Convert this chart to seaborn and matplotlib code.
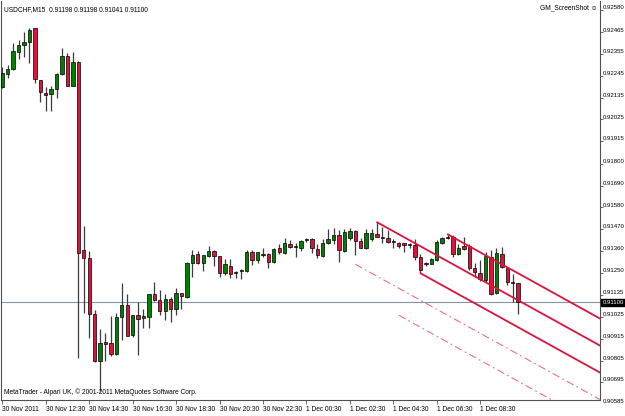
import matplotlib
matplotlib.use("Agg")
import matplotlib.pyplot as plt
import matplotlib.transforms as mtransforms
import numpy as np
import pandas as pd
import seaborn as sns

# ---------------- data ----------------
symbol = "USDCHF,M15"
opens = [0.92190, 0.92253, 0.92279, 0.92368, 0.92401, 0.92415, 0.92486, 0.92224, 0.92157, 0.92154,
         0.92177, 0.92255, 0.92347, 0.92196, 0.92317, 0.91365, 0.91323, 0.91041, 0.90805, 0.90898,
         0.90893, 0.90837, 0.91027, 0.91085, 0.90935, 0.91034, 0.91019, 0.91024, 0.91140, 0.91112,
         0.91056, 0.91118, 0.91065, 0.91146, 0.91125, 0.91300, 0.91343, 0.91297, 0.91334, 0.91361,
         0.91334, 0.91247, 0.91285, 0.91247, 0.91258, 0.91258, 0.91353, 0.91314, 0.91339, 0.91343,
         0.91305, 0.91376, 0.91348, 0.91395, 0.91385, 0.91376, 0.91415, 0.91419, 0.91368, 0.91336,
         0.91398, 0.91415, 0.91440, 0.91359, 0.91427, 0.91461, 0.91410, 0.91373, 0.91420, 0.91445,
         0.91429, 0.91424, 0.91410, 0.91398, 0.91398, 0.91393, 0.91390, 0.91331, 0.91297, 0.91294,
         0.91314, 0.91398, 0.91432, 0.91432, 0.91343, 0.91386, 0.91386, 0.91272, 0.91247, 0.91213,
         0.91331, 0.91146, 0.91343, 0.91275, 0.91203, 0.91198]
highs = [0.92290, 0.92300, 0.92410, 0.92427, 0.92466, 0.92486, 0.92489, 0.92224, 0.92190, 0.92194,
         0.92258, 0.92388, 0.92359, 0.92365, 0.92321, 0.91486, 0.91359, 0.91061, 0.90965, 0.90945,
         0.91031, 0.91047, 0.91196, 0.91140, 0.91036, 0.91103, 0.91065, 0.91142, 0.91204, 0.91162,
         0.91140, 0.91128, 0.91171, 0.91148, 0.91305, 0.91365, 0.91359, 0.91341, 0.91385, 0.91365,
         0.91336, 0.91318, 0.91318, 0.91258, 0.91267, 0.91365, 0.91365, 0.91356, 0.91376, 0.91348,
         0.91373, 0.91393, 0.91424, 0.91415, 0.91398, 0.91415, 0.91424, 0.91424, 0.91393, 0.91420,
         0.91469, 0.91474, 0.91466, 0.91469, 0.91474, 0.91466, 0.91427, 0.91469, 0.91469, 0.91505,
         0.91482, 0.91466, 0.91419, 0.91407, 0.91400, 0.91398, 0.91419, 0.91343, 0.91305, 0.91326,
         0.91415, 0.91432, 0.91444, 0.91440, 0.91393, 0.91432, 0.91393, 0.91297, 0.91314, 0.91356,
         0.91365, 0.91373, 0.91381, 0.91280, 0.91242, 0.91198]
lows = [0.92184, 0.92235, 0.92275, 0.92331, 0.92342, 0.92309, 0.92208, 0.92115, 0.92068, 0.92069,
        0.92132, 0.92250, 0.92194, 0.92194, 0.90820, 0.91047, 0.90921, 0.90800, 0.90653, 0.90805,
        0.90828, 0.90835, 0.90909, 0.90929, 0.90926, 0.90833, 0.90969, 0.90969, 0.91107, 0.91036,
        0.91010, 0.90999, 0.91036, 0.91065, 0.91120, 0.91226, 0.91295, 0.91258, 0.91328, 0.91284,
        0.91229, 0.91238, 0.91224, 0.91224, 0.91216, 0.91255, 0.91289, 0.91297, 0.91331, 0.91275,
        0.91297, 0.91343, 0.91343, 0.91373, 0.91331, 0.91359, 0.91407, 0.91348, 0.91323, 0.91331,
        0.91396, 0.91393, 0.91305, 0.91356, 0.91415, 0.91339, 0.91373, 0.91371, 0.91410, 0.91430,
        0.91398, 0.91398, 0.91373, 0.91373, 0.91356, 0.91376, 0.91314, 0.91247, 0.91285, 0.91292,
        0.91309, 0.91393, 0.91420, 0.91331, 0.91339, 0.91365, 0.91263, 0.91229, 0.91208, 0.91204,
        0.91137, 0.91140, 0.91275, 0.91188, 0.91100, 0.91041]
closes = [0.92258, 0.92279, 0.92371, 0.92401, 0.92415, 0.92477, 0.92228, 0.92162, 0.92149, 0.92179,
          0.92255, 0.92347, 0.92196, 0.92314, 0.91351, 0.91323, 0.91041, 0.90805, 0.90893, 0.90889,
          0.90837, 0.91027, 0.91085, 0.90931, 0.91034, 0.91014, 0.91031, 0.91140, 0.91112, 0.91056,
          0.91118, 0.91065, 0.91146, 0.91132, 0.91297, 0.91339, 0.91297, 0.91339, 0.91361, 0.91334,
          0.91247, 0.91292, 0.91242, 0.91255, 0.91261, 0.91353, 0.91314, 0.91353, 0.91344, 0.91305,
          0.91370, 0.91353, 0.91398, 0.91381, 0.91378, 0.91410, 0.91419, 0.91373, 0.91339, 0.91398,
          0.91419, 0.91440, 0.91365, 0.91457, 0.91461, 0.91410, 0.91376, 0.91449, 0.91449, 0.91432,
          0.91424, 0.91407, 0.91403, 0.91386, 0.91390, 0.91390, 0.91329, 0.91263, 0.91292, 0.91319,
          0.91407, 0.91427, 0.91427, 0.91343, 0.91376, 0.91370, 0.91272, 0.91255, 0.91218, 0.91334,
          0.91142, 0.91348, 0.91280, 0.91201, 0.91198, 0.91100]

xtick_labels = ["30 Nov 2011", "30 Nov 12:30", "30 Nov 14:30", "30 Nov 16:30", "30 Nov 18:30",
                "30 Nov 20:30", "30 Nov 22:30", "1 Dec 00:30", "1 Dec 02:30", "1 Dec 04:30",
                "1 Dec 06:30", "1 Dec 08:30"]
xtick_bars = [0, 8, 16, 24, 32, 40, 48, 56, 64, 72, 80, 88]
price_ticks = [0.92580, 0.92465, 0.92355, 0.92245, 0.92135, 0.92025, 0.91915, 0.91800, 0.91690,
               0.91580, 0.91470, 0.91360, 0.91250, 0.91135, 0.91025, 0.90915, 0.90805, 0.90695,
               0.90585]

# Andrews pitchfork anchors (bar index) and extra lower levels
pf_bars = [69, 77, 82]
extra_levels = [-2, -3]
extra_start_bars = [65, 73]

# ---------------- style ----------------
sns.set_style("white")
plt.rcParams["font.family"] = ["Liberation Sans", "DejaVu Sans"]

BULL = "#008000"
BEAR = "#DC143C"
PF = "#DC143C"
FS = 4.8
FSY = 4.3

df = pd.DataFrame({"bar": np.arange(len(opens)), "open": opens, "high": highs,
                   "low": lows, "close": closes})

fig = plt.figure(figsize=(6.25, 4.16), dpi=100)
ax = fig.add_axes([1 / 625, 16 / 416, 599 / 625, 399 / 416])
ax.set_facecolor("white")

# wicks
ax.vlines(df["bar"], df["low"], df["high"], color="#3c3c3c", lw=0.9, zorder=2)
# bodies
up = df["close"] >= df["open"]
ax.bar(df["bar"], df["close"] - df["open"], bottom=df["open"], width=0.62,
       color=np.where(up, BULL, BEAR), edgecolor="black", linewidth=0.5, zorder=3)

# bid line
sns.lineplot(x=[-5, 120], y=[closes[-1], closes[-1]], ax=ax, color="#7F96AA", lw=0.8,
             zorder=1, estimator=None, sort=False)

# pitchfork
a_bar, c_bar, b_bar = pf_bars
a_p, c_p, b_p = highs[a_bar], lows[c_bar], highs[b_bar]
mid_bar, mid_p = (b_bar + c_bar) / 2, (b_p + c_p) / 2
slope = (mid_p - a_p) / (mid_bar - a_bar)
end_bar = 125
width_p = b_p - (a_p + slope * (b_bar - a_bar))


def pline(x0, p0, ls="-", lw=1.3, color=PF, alpha=1.0):
    sns.lineplot(x=[x0, end_bar], y=[p0, p0 + slope * (end_bar - x0)], ax=ax, color=color,
                 lw=lw, linestyle=ls, alpha=alpha, zorder=4, estimator=None, sort=False)


pline(a_bar, a_p)
pline(b_bar, b_p)
pline(c_bar, c_p)
for lev, sb in zip(extra_levels, extra_start_bars):
    p0 = a_p + slope * (sb - a_bar) + lev * width_p
    pline(sb, p0, ls=(0, (7, 3, 1.5, 3)), lw=0.8, color="#E8607C", alpha=0.9)

# limits
ax.set_xlim(-0.24, 110.07)
ax.set_ylim(0.906059, 0.926239)

# spines
for s in ax.spines.values():
    s.set_color("#505050")
    s.set_linewidth(0.8)
ax.spines["top"].set_visible(False)

# x ticks
ax.set_xticks(xtick_bars)
ax.set_xticklabels(xtick_labels, ha="left", fontsize=FS)
ax.tick_params(axis="x", length=3, width=0.6, pad=1.5, color="#505050", labelcolor="black",
               direction="out", bottom=True)

# y ticks (right)
ax.yaxis.tick_right()
in_range = [v for v in price_ticks if 0.906059 <= v <= 0.926239]
ax.set_yticks(in_range)
ax.set_yticklabels([])
ax.tick_params(axis="y", length=2.5, width=0.6, color="#505050", direction="out", right=True)
ytrans = mtransforms.blended_transform_factory(ax.transAxes, ax.transData)
ytrans_off = mtransforms.offset_copy(ytrans, fig=fig, x=3.0, y=2.4, units="dots")
for v in price_ticks:
    ax.text(1.0, v, f"{v:.5f}", transform=ytrans_off, ha="left", va="center",
            fontsize=FSY, color="black", clip_on=False)
# current price box
ax.text(1.0, closes[-1], f"{closes[-1]:.5f}",
        transform=mtransforms.offset_copy(ytrans, fig=fig, x=2.5, y=0, units="dots"),
        ha="left", va="center", fontsize=FSY, color="white", clip_on=False, zorder=6,
        bbox=dict(facecolor="black", edgecolor="black", pad=0.9))

# annotations
fig.text(4 / 625, 1 - 10 / 416,
         f"{symbol}  {opens[-1]:.5f} {highs[-1]:.5f} {lows[-1]:.5f} {closes[-1]:.5f}",
         ha="left", va="center", fontsize=FS, color="black")
fig.text(598 / 625, 1 - 8 / 416, "GM_ScreenShot \u263A", ha="right", va="center",
         fontsize=FS, color="black")
fig.text(4 / 625, 1 - 392 / 416, "MetaTrader - Alpari UK, \u00A9 2001-2011 MetaQuotes Software Corp.",
         ha="left", va="center", fontsize=FS, color="black")

fig.savefig("out.png", dpi=100)
